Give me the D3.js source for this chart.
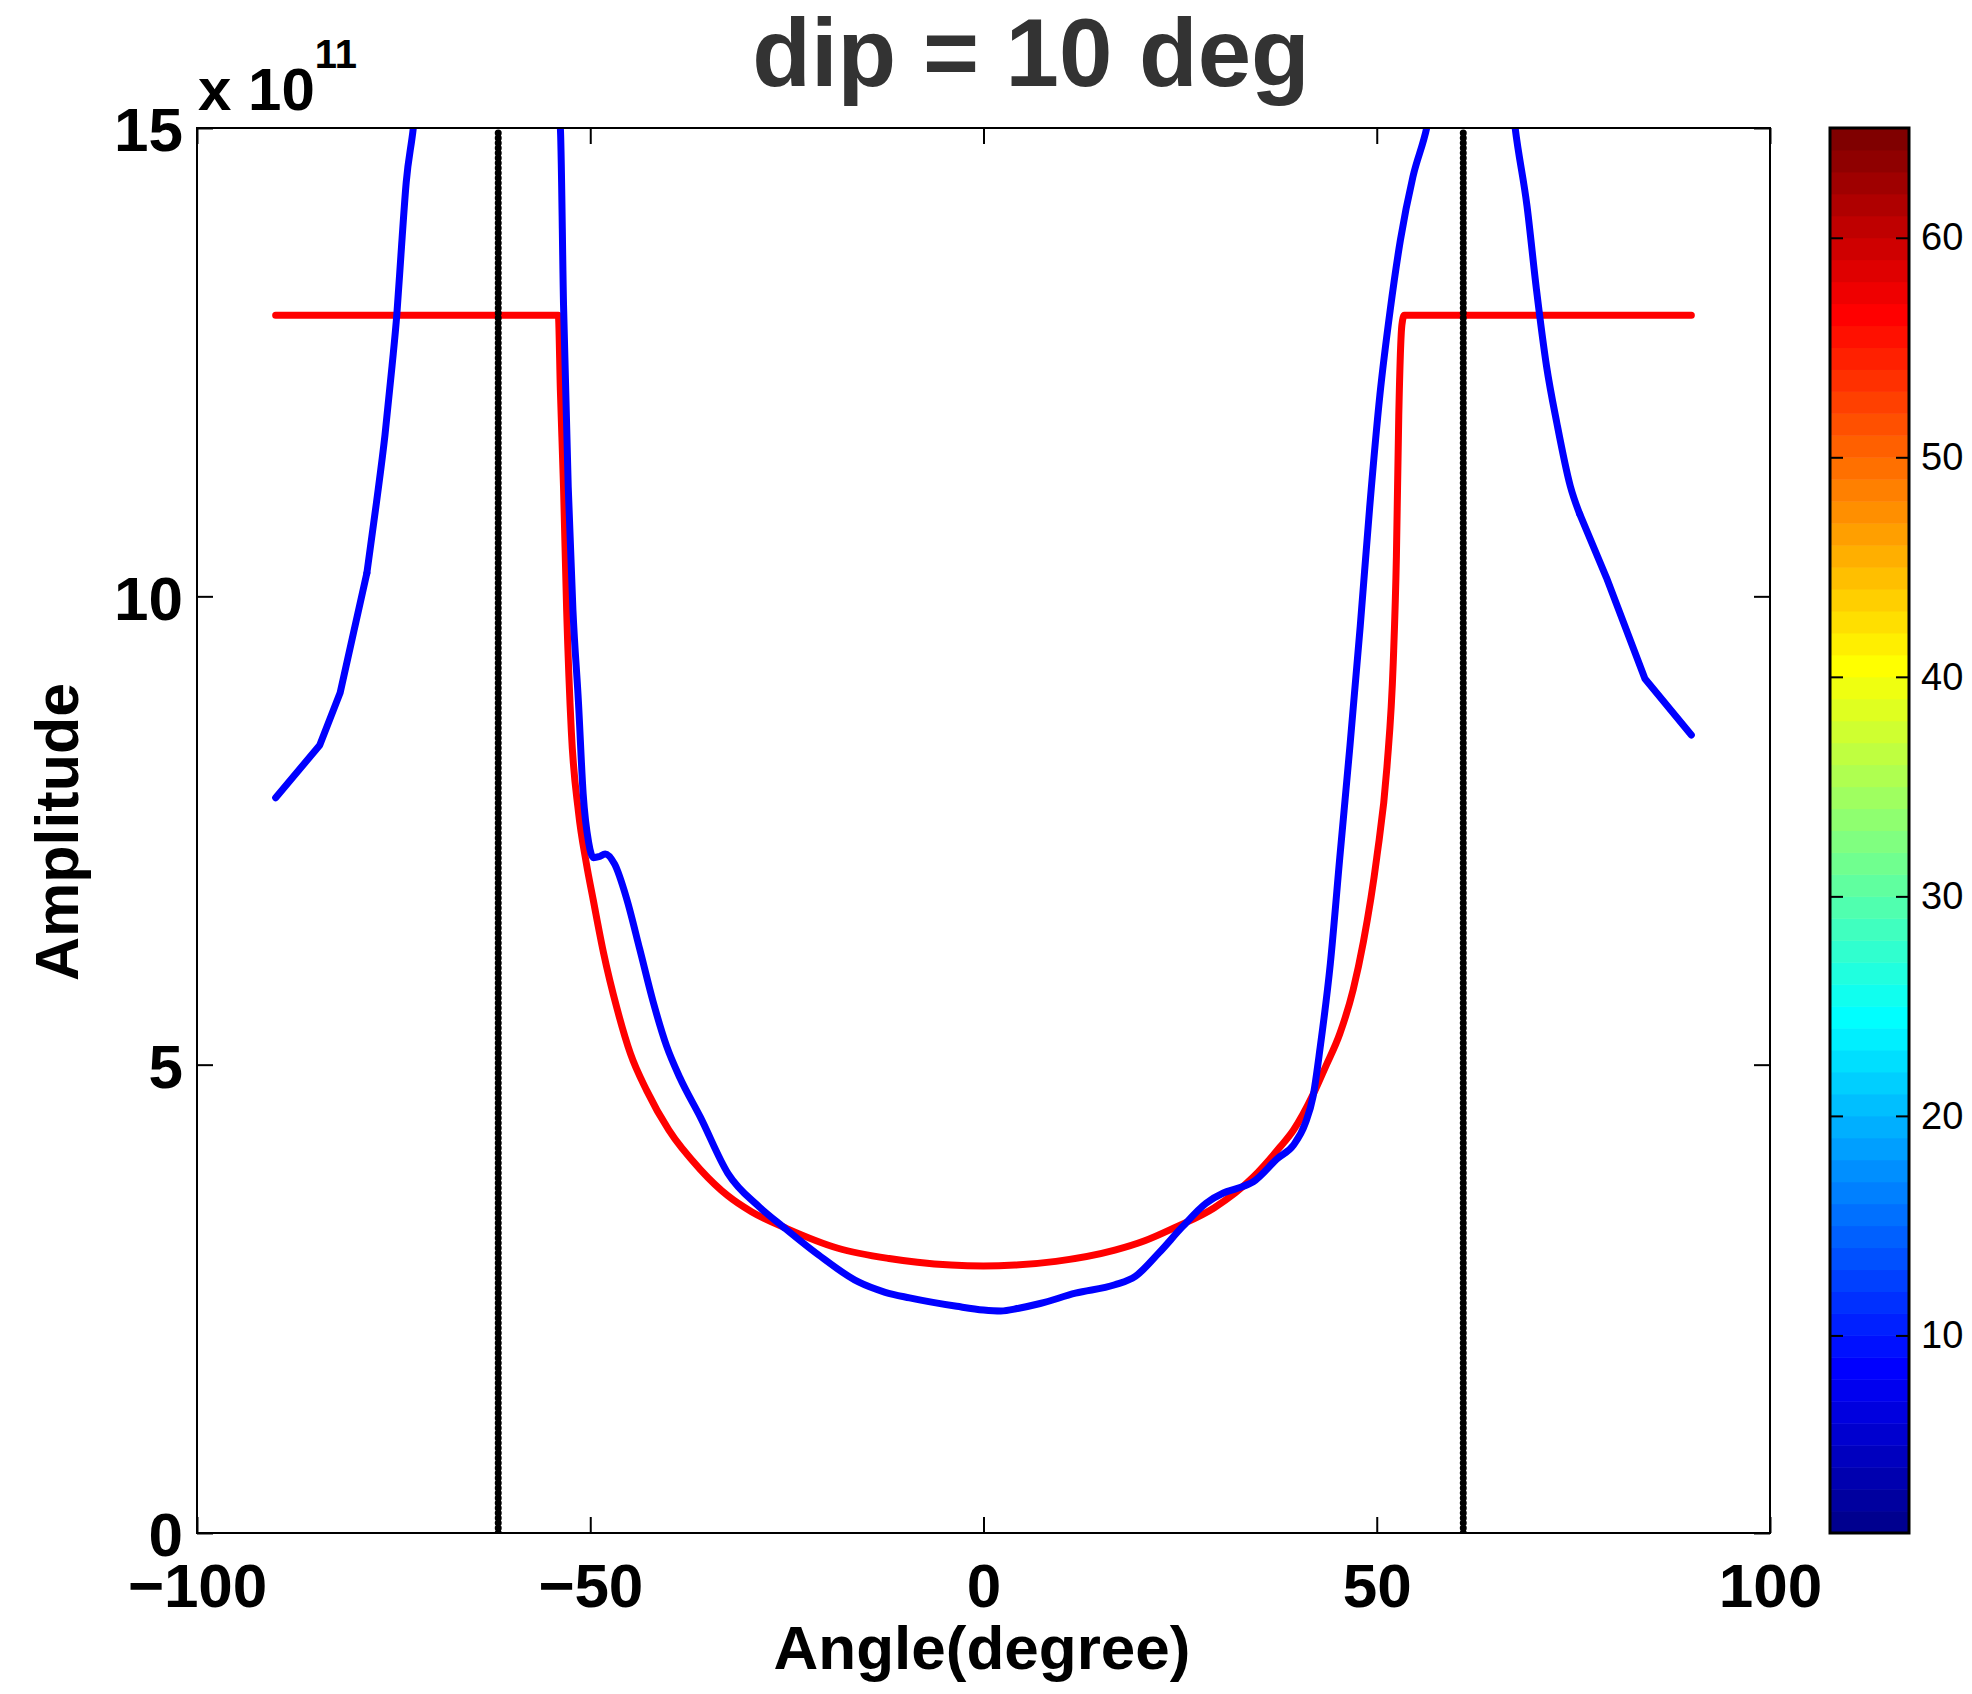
<!DOCTYPE html>
<html>
<head>
<meta charset="utf-8">
<script src="https://cdn.jsdelivr.net/npm/d3@7"></script>
<style>
  body { margin: 0; background: #fff; }
  svg { display: block; }
  text { font-family: "Liberation Sans", Arial, Helvetica, sans-serif; }
</style>
</head>
<body>
<script>
// amplitudes are in units of 1e11
const angleTicks = [-100, -50, 0, 50, 100];
const ampTicks = [0, 5, 10, 15];
const colorTicks = [10, 20, 30, 40, 50, 60];
const criticalAngles = [-61.7, 61.0];

const redAngles = [-90, -54.06, -53.8, -53.4, -53.0, -52.4, -51.5, -50.5, -49.6, -48.3, -46.6, -44.9, -42.8, -40, -36.0,
                   -32.5, -29.5, -25.0, -18.5, -12, -8.4, 0, 4, 9.2, 16.7, 20.5, 24.3, 29.3, 34.3, 37.7, 39.4, 41.9,
                   43.5, 45.3, 47, 48.3, 50.0, 51.3, 52.1, 52.5, 52.8, 53.2, 53.5, 90];
const redAmps = [13.0, 13.0, 12.2, 11.17, 9.85, 8.55, 7.70, 7.15, 6.75, 6.19, 5.60, 5.12, 4.72, 4.30, 3.88,
                 3.60, 3.43, 3.25, 3.04, 2.93, 2.89, 2.85, 2.86, 2.90, 3.02, 3.12, 3.26, 3.47, 3.80, 4.12, 4.30, 4.68,
                 4.98, 5.33, 5.80, 6.31, 7.21, 8.18, 9.30, 10.43, 11.93, 12.90, 13.0, 13.0];

const blueAngles = [-90, -84.4, -81.8, -80.1, -78.4, -77.2, -76.1, -75.2, -74.6, -74.0, -73.4, -72.5, -71.8,
                    -55, -53.8, -53.4, -52.8, -52.2, -51.5, -50.9, -50.2, -49.6, -48.9, -48.1, -46.9, -45.4, -43.7,
                    -42.0, -40.3, -38.6, -36.0, -32.5, -28.5, -25.5, -21.0, -15.9, -12.5, -9.4, -3.4, 0, 2.2, 4.5,
                    7.2, 11.7, 16.7, 19.3, 22.3, 25.3, 28.3, 30.5, 32.3, 34.3, 37.4, 39.4, 40.9, 41.9, 42.8, 44.1,
                    45.3, 46.6, 47.9, 49.1, 50.4, 51.7, 53.0, 54.6, 56.35, 57.5, 66.8, 67.6, 69.1, 70.3, 71.6, 72.9,
                    74.6, 75.8, 79.2, 84.1, 90];
const blueAmps = [7.85, 8.41, 8.97, 9.61, 10.25, 10.99, 11.72, 12.46, 13.0, 13.73, 14.42, 15.0, 15.6,
                  15.8, 15.0, 13.12, 11.17, 9.85, 8.87, 7.89, 7.37, 7.21, 7.22, 7.25, 7.14, 6.78, 6.23,
                  5.67, 5.20, 4.86, 4.44, 3.84, 3.48, 3.27, 2.97, 2.68, 2.57, 2.51, 2.42, 2.38, 2.37, 2.40,
                  2.45, 2.56, 2.65, 2.74, 2.99, 3.27, 3.52, 3.63, 3.68, 3.75, 4.00, 4.14, 4.37, 4.66, 5.18, 6.08,
                  7.21, 8.41, 9.68, 10.95, 12.15, 13.05, 13.80, 14.48, 15.0, 15.5, 15.6, 15.0, 14.17, 13.28, 12.45, 11.85,
                  11.18, 10.88, 10.2, 9.12, 8.52];

const svgWidth = 1972;
const svgHeight = 1694;
const plot = { left: 197, right: 1770, top: 128, bottom: 1533 };
const cbar = { left: 1830, right: 1909 };

const svg = d3.select('body')
              .append('svg')
              .attr('width', svgWidth)
              .attr('height', svgHeight);

const x = d3.scaleLinear().domain([-100, 100]).range([plot.left, plot.right]);
const y = d3.scaleLinear().domain([0, 15]).range([plot.bottom, plot.top]);
const c = d3.scaleLinear().domain([1, 65]).range([plot.bottom, plot.top]);

svg.append('clipPath').attr('id', 'clip')
   .append('rect')
   .attr('x', plot.left).attr('y', plot.top)
   .attr('width', plot.right - plot.left).attr('height', plot.bottom - plot.top);

const g = svg.append('g').attr('clip-path', 'url(#clip)');

// coarse sampling in the tails -> straight segments there, smooth in the middle
function drawSeries(angles, amps, colour, lo, hi) {
  const idx = d3.range(angles.length);
  const pieces = [
    [idx.filter(i => angles[i] <= lo), d3.curveLinear],
    [idx.filter(i => angles[i] >= lo && angles[i] <= hi), d3.curveMonotoneX],
    [idx.filter(i => angles[i] >= hi), d3.curveLinear]
  ];
  pieces.forEach(([ids, curve]) => {
    if (ids.length < 2) return;
    const line = d3.line()
                   .curve(curve)
                   .x(i => x(angles[i]))
                   .y(i => y(amps[i]));
    g.append('path')
     .attr('d', line(ids))
     .attr('fill', 'none')
     .attr('stroke', colour)
     .attr('stroke-width', 7)
     .attr('stroke-linejoin', 'round')
     .attr('stroke-linecap', 'round');
  });
}

drawSeries(redAngles, redAmps, '#ff0000', -90, 90);
drawSeries(blueAngles, blueAmps, '#0000ff', -78.4, 75.8);

// critical angle markers
g.selectAll('.crit')
 .data(criticalAngles)
 .enter()
 .append('line')
 .attr('x1', d => x(d)).attr('x2', d => x(d))
 .attr('y1', y(0)).attr('y2', y(15))
 .attr('stroke', '#000')
 .attr('stroke-width', 7)
 .attr('stroke-linecap', 'round')
 .attr('stroke-dasharray', '0 5');

// axes, ticks pointing inward
const tickFont = g => g.selectAll('text')
                       .attr('font-size', 62)
                       .attr('font-weight', 'bold')
                       .attr('fill', '#000');

function styleAxis(sel) {
  sel.select('.domain').remove();
  sel.selectAll('line').attr('stroke', '#000').attr('stroke-width', 2);
}

svg.append('g')
   .attr('transform', `translate(0,${plot.bottom})`)
   .call(d3.axisBottom(x).tickValues(angleTicks).tickSize(-16).tickPadding(30))
   .call(styleAxis)
   .call(tickFont)
   .selectAll('text').attr('dy', '0.71em');

svg.append('g')
   .attr('transform', `translate(0,${plot.top})`)
   .call(d3.axisTop(x).tickValues(angleTicks).tickSize(-16).tickFormat(''))
   .call(styleAxis);

svg.append('g')
   .attr('transform', `translate(${plot.left},0)`)
   .call(d3.axisLeft(y).tickValues(ampTicks).tickSize(-16).tickPadding(14))
   .call(styleAxis)
   .call(tickFont)
   .selectAll('text').attr('dy', '0.37em');

svg.append('g')
   .attr('transform', `translate(${plot.right},0)`)
   .call(d3.axisRight(y).tickValues(ampTicks).tickSize(-16).tickFormat(''))
   .call(styleAxis);

svg.append('rect')
   .attr('x', plot.left).attr('y', plot.top)
   .attr('width', plot.right - plot.left).attr('height', plot.bottom - plot.top)
   .attr('fill', 'none')
   .attr('stroke', '#000')
   .attr('stroke-width', 2);

// exponent label
const expo = svg.append('text')
                .attr('x', 198).attr('y', 110)
                .attr('font-size', 60)
                .attr('font-weight', 'bold');
expo.append('tspan').text('x 10');
expo.append('tspan').attr('font-size', 40).attr('dy', -42).text('11');

// axis titles
svg.append('text')
   .attr('x', 982).attr('y', 1669)
   .attr('text-anchor', 'middle')
   .attr('font-size', 62)
   .attr('font-weight', 'bold')
   .text('Angle(degree)');

svg.append('text')
   .attr('transform', 'translate(78,832) rotate(-90)')
   .attr('text-anchor', 'middle')
   .attr('font-size', 61)
   .attr('font-weight', 'bold')
   .text('Amplitude');

svg.append('text')
   .attr('x', 1031).attr('y', 86)
   .attr('text-anchor', 'middle')
   .attr('font-family', 'Lato, "Open Sans", sans-serif')
   .attr('font-size', 96)
   .attr('font-weight', 900)
   .attr('fill', '#333')
   .text('dip = 10 deg');

// colorbar: jet, 64 steps
const nColors = 64;
const jet = t => {
  const f = v => Math.max(0, Math.min(1, v));
  return d3.rgb(255 * f(1.5 - Math.abs(4 * t - 3)),
                255 * f(1.5 - Math.abs(4 * t - 2)),
                255 * f(1.5 - Math.abs(4 * t - 1)));
};

svg.append('g')
   .selectAll('rect')
   .data(d3.range(nColors))
   .enter()
   .append('rect')
   .attr('x', cbar.left)
   .attr('width', cbar.right - cbar.left)
   .attr('y', i => c(i + 2))
   .attr('height', c(1) - c(2) + 0.5)
   .attr('fill', i => jet((i + 1) / nColors));

svg.append('g')
   .attr('transform', `translate(${cbar.right},0)`)
   .call(d3.axisRight(c).tickValues(colorTicks).tickSize(-13).tickPadding(12))
   .call(styleAxis)
   .selectAll('text')
   .attr('font-size', 38)
   .attr('fill', '#000');

svg.append('g')
   .attr('transform', `translate(${cbar.left},0)`)
   .call(d3.axisLeft(c).tickValues(colorTicks).tickSize(-13).tickFormat(''))
   .call(styleAxis);

svg.append('rect')
   .attr('x', cbar.left).attr('y', plot.top)
   .attr('width', cbar.right - cbar.left).attr('height', plot.bottom - plot.top)
   .attr('fill', 'none')
   .attr('stroke', '#000')
   .attr('stroke-width', 3);
</script>
</body>
</html>
